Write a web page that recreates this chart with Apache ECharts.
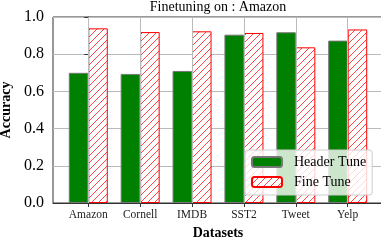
<!DOCTYPE html>
<html>
<head>
<meta charset="utf-8">
<script src="https://cdn.jsdelivr.net/npm/echarts@6/dist/echarts.min.js"></script>
<style>html,body{margin:0;padding:0;background:#fff;}#c{width:381px;height:244px;}</style>
</head>
<body>
<div id="c"></div>
<script>
const categories = ['Amazon', 'Cornell', 'IMDB', 'SST2', 'Tweet', 'Yelp'];
const headerTune = [0.700, 0.694, 0.710, 0.905, 0.918, 0.873];
const fineTune = [0.939, 0.919, 0.923, 0.914, 0.837, 0.933];
const yTicks = [0, 0.2, 0.4, 0.6, 0.8, 1.0];
const titleText = 'Finetuning on : Amazon';

const FONT = '"Liberation Serif", "DejaVu Serif", serif';

function hatch() {
  const s = 7;
  const cv = document.createElement('canvas');
  cv.width = s; cv.height = s;
  const g = cv.getContext('2d');
  g.fillStyle = '#ffffff';
  g.fillRect(0, 0, s, s);
  g.strokeStyle = '#ff3030';
  g.lineWidth = 0.9;
  g.beginPath();
  g.moveTo(-1, s + 1); g.lineTo(s + 1, -1);
  g.moveTo(-1, 1); g.lineTo(1, -1);
  g.moveTo(s - 1, s + 1); g.lineTo(s + 1, s - 1);
  g.stroke();
  return { image: cv, repeat: 'repeat' };
}

const idx = categories.map((_, i) => i);
const chart = echarts.init(document.getElementById('c'), null, { renderer: 'canvas' });
chart.setOption({
  animation: false,
  backgroundColor: '#ffffff',
  title: {
    text: titleText, left: 218, top: 0, padding: 0, textAlign: 'center',
    textStyle: { fontFamily: FONT, fontSize: 14, fontWeight: 'normal', color: '#000' }
  },
  grid: {
    left: 53, top: 17, width: 330, height: 186,
    containLabel: false, outerBoundsMode: 'none',
    show: true, borderColor: '#333', borderWidth: 1, backgroundColor: 'transparent'
  },
  legend: {
    orient: 'vertical', left: 245, top: 150, z: 20,
    padding: [5, 6, 6, 6], itemGap: 6, itemWidth: 30, itemHeight: 10,
    backgroundColor: 'rgba(255,255,255,0.8)', borderColor: '#cccccc', borderWidth: 1, borderRadius: 3,
    textStyle: { fontFamily: FONT, fontSize: 14, color: '#000', padding: [0, 0, 0, 7] },
    data: ['Header Tune', 'Fine Tune']
  },
  xAxis: {
    type: 'value', min: -0.68, max: 5.68,
    name: 'Datasets', nameLocation: 'middle', nameGap: 20,
    nameTextStyle: { fontFamily: FONT, fontSize: 14, fontWeight: 'bold', color: '#000' },
    axisLine: { show: true, lineStyle: { color: '#333' } },
    axisTick: { show: true, length: 4, customValues: idx, lineStyle: { color: '#333' } },
    axisLabel: {
      customValues: idx, margin: 6,
      formatter: v => categories[Math.round(v)],
      fontFamily: FONT, fontSize: 11.5, color: '#222'
    },
    splitLine: { show: false }
  },
  yAxis: {
    type: 'value', min: 0, max: 1, interval: 0.2,
    name: 'Accuracy', nameLocation: 'middle', nameGap: 33,
    nameTextStyle: { fontFamily: FONT, fontSize: 14, fontWeight: 'bold', color: '#000' },
    axisLine: { show: true, lineStyle: { color: '#333' } },
    axisTick: { show: true, length: 4, lineStyle: { color: '#333' } },
    axisLabel: {
      margin: 9, fontFamily: FONT, fontSize: 16, color: '#000',
      formatter: v => yTicks.includes(+v.toFixed(1)) ? v.toFixed(1) : ''
    },
    splitLine: { show: true, lineStyle: { color: '#bbbbbb', width: 1 } }
  },
  series: [
    {
      name: 'vgrid', type: 'line', data: [], z: 1, silent: true,
      markLine: {
        silent: true, symbol: 'none', label: { show: false },
        lineStyle: { color: '#bbbbbb', width: 1, type: 'solid' },
        data: idx.map(i => ({ xAxis: i }))
      }
    },
    {
      name: 'Header Tune', type: 'bar', barWidth: 19.5, barGap: '0%', z: 3,
      data: headerTune.map((v, i) => [i, v]),
      itemStyle: { color: '#008000', borderColor: '#777777', borderWidth: 1 }
    },
    {
      name: 'Fine Tune', type: 'bar', barWidth: 19.5, barGap: '0%', z: 3,
      data: fineTune.map((v, i) => [i, v]),
      itemStyle: { color: hatch(), borderColor: '#ff0000', borderWidth: 1 }
    }
  ]
});
</script>
</body>
</html>
